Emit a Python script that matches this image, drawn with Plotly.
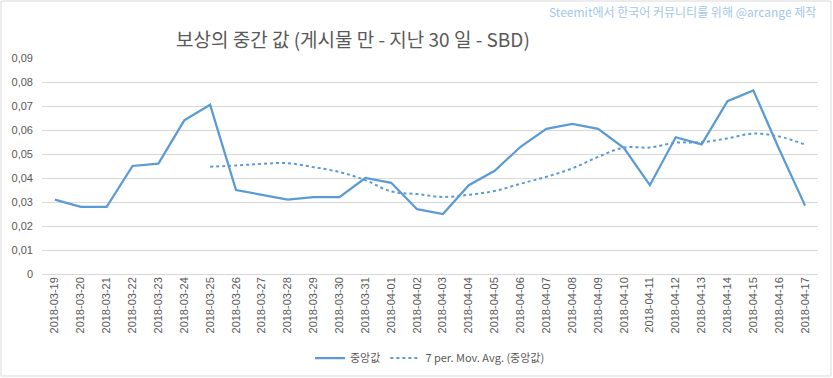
import plotly.graph_objects as go

dates = ["2018-03-19", "2018-03-20", "2018-03-21", "2018-03-22", "2018-03-23", "2018-03-24",
         "2018-03-25", "2018-03-26", "2018-03-27", "2018-03-28", "2018-03-29", "2018-03-30",
         "2018-03-31", "2018-04-01", "2018-04-02", "2018-04-03", "2018-04-04", "2018-04-05",
         "2018-04-06", "2018-04-07", "2018-04-08", "2018-04-09", "2018-04-10", "2018-04-11",
         "2018-04-12", "2018-04-13", "2018-04-14", "2018-04-15", "2018-04-16", "2018-04-17"]
median_vals = [0.031, 0.028, 0.028, 0.045, 0.046, 0.064,
               0.0705, 0.035, 0.033, 0.031, 0.032, 0.032,
               0.040, 0.038, 0.027, 0.025, 0.037, 0.043,
               0.053, 0.0605, 0.0625, 0.0605, 0.0525, 0.037,
               0.057, 0.054, 0.072, 0.0765, 0.052, 0.0285]
ma_dates = dates[6:]
ma_vals = [0.0447, 0.0452, 0.0459, 0.0462, 0.0445, 0.0425,
           0.0391, 0.0344, 0.0333, 0.0321, 0.0330, 0.0346,
           0.0376, 0.0405, 0.0440, 0.0488, 0.0527, 0.0527,
           0.0547, 0.0549, 0.0565, 0.0585, 0.0573, 0.0539]
y_ticks = [0, 0.01, 0.02, 0.03, 0.04, 0.05, 0.06, 0.07, 0.08, 0.09]
y_labels = ["0", "0,01", "0,02", "0,03", "0,04", "0,05", "0,06", "0,07", "0,08", "0,09"]

title_text = "보상의 중간 값 (게시물 만 - 지난 30 일 - SBD)"
watermark = "Steemit에서 한국어 커뮤니티를 위해 @arcange 제작"

W, H = 833, 378
L, R, T, B = 42, 15, 58, 104
pw, ph = W - L - R, H - T - B

color = "#5B9BD5"
grey = "#595959"
font_fam = "Noto Sans CJK KR, Open Sans, sans-serif"
tick_fam = "Liberation Sans Narrow, Liberation Sans, sans-serif"

fig = go.Figure()
fig.add_trace(go.Scatter(x=dates, y=median_vals, mode="lines", name="중앙값",
                         line=dict(color=color, width=2.25)))
fig.add_trace(go.Scatter(x=ma_dates, y=ma_vals, mode="lines", name="7 per. Mov. Avg. (중앙값)",
                         line=dict(color=color, width=2, dash="dot", shape="spline")))

fig.update_layout(
    width=W, height=H,
    margin=dict(l=L, r=R, t=T, b=B, autoexpand=False),
    paper_bgcolor="white", plot_bgcolor="white",
    font=dict(family=font_fam, color=grey, size=11),
    showlegend=True,
    legend=dict(orientation="h", x=0.5, xanchor="center", yref="container",
                y=1 - 358 / H, yanchor="middle",
                font=dict(size=11, color=grey), bgcolor="rgba(0,0,0,0)"),
    xaxis=dict(type="category", categoryorder="array", categoryarray=dates,
               tickangle=-90, showgrid=False, showline=False, zeroline=False,
               ticks="", automargin=False,
               tickfont=dict(size=11, color=grey, family=tick_fam),
               range=[-0.5, len(dates) - 0.5]),
    yaxis=dict(range=[0, 0.09], tickvals=y_ticks, ticktext=y_labels,
               showgrid=True, gridcolor="#D9D9D9", gridwidth=1, zeroline=True,
               zerolinecolor="#D9D9D9", zerolinewidth=1, showline=False, ticks="",
               automargin=False, ticklabelstandoff=8,
               tickfont=dict(size=11, color=grey, family=tick_fam)),
)

fig.add_annotation(text=title_text, xref="paper", yref="paper",
                   x=(353 - L) / pw, y=(H - B - 38) / ph, xanchor="center", yanchor="middle",
                   showarrow=False, font=dict(size=19, color=grey, family=font_fam))
fig.add_annotation(text=watermark, xref="paper", yref="paper",
                   x=(818 - L) / pw, y=(H - B - 11) / ph, xanchor="right", yanchor="middle",
                   showarrow=False, font=dict(size=12, color="#A3C7EA", family=font_fam))

fig.add_shape(type="rect", xref="paper", yref="paper",
              x0=(1 - L) / pw, x1=(W - 2 - L) / pw,
              y0=-(H - 2 - T - ph) / ph, y1=(H - B - 1) / ph,
              line=dict(color="#D9D9D9", width=1), fillcolor="rgba(0,0,0,0)", layer="below")

fig.write_html("out.html", config={"displayModeBar": False},
               post_script="document.body.style.margin='0';document.body.style.overflow='hidden';")
